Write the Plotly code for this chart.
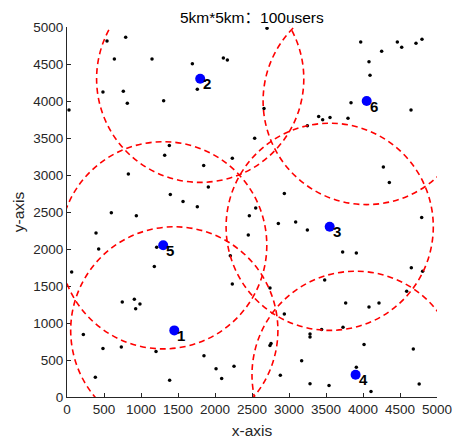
import plotly.graph_objects as go

# Base stations
bs_x = [1450, 1800, 3550, 3900, 1300, 4050]
bs_y = [900, 4300, 2300, 300, 2050, 4000]
bs_labels = ["1", "2", "3", "4", "5", "6"]
coverage_radius = 1400

# Users
user_x = [793, 541, 640, 1149, 1694, 2113, 2167, 1761, 486, 761, 815, 1306, 27, 1383,
          2703, 3969, 4464, 4523, 4716, 4797, 4252, 4081, 4095, 3838, 4649, 2662, 3401,
          3455, 3554, 3797, 3248, 2536,
          1320, 1847, 2234, 829, 1910, 1396, 1568, 1761, 599, 937, 2464, 392, 2450, 428,
          1212, 1180, 63, 2207,
          4275, 4356, 2937, 2550, 2856, 3090, 3248, 4793, 3725, 3910, 4653, 4806,
          2234, 747, 910, 986, 928, 221, 734, 486, 1203, 1851, 2014, 2257, 2090, 383, 1387,
          2743, 3482, 3766, 4081, 4216, 4590, 2937, 3730, 3441, 3284, 3284, 2757, 2743,
          4014, 4680, 3171, 3910, 2883, 3284, 3541, 4108, 4759]
user_y = [4861, 4811, 4568, 4568, 4505, 4582, 4555, 4159, 4123, 4132, 3970, 4005, 3880, 3398,
          4982, 4798, 4798, 4726, 4780, 4834, 4672, 4532, 4348, 3978, 3880, 3898, 3790,
          3745, 3776, 3768, 3664, 3498,
          3268, 3128, 3228, 3012, 2837, 2737, 2643, 2571, 2490, 2449, 2449, 2216, 2189, 2000,
          2022, 1765, 1690, 1910,
          3107, 2899, 2751, 2553, 2346, 2364, 2256, 2427, 1959, 1946, 1748, 1698,
          1528, 1285, 1320, 1258, 1194, 843, 677, 655, 614, 556, 381, 416, 250, 267, 227,
          1474, 1582, 1271, 1217, 1271, 1428, 1123, 942, 911, 853, 812, 722, 695,
          708, 650, 489, 402, 294, 178, 155, 76, 176]

tick_vals = list(range(0, 5001, 500))
tick_text = [str(v) for v in tick_vals]

title_text = "5km*5km：100users"

FONT = "Liberation Sans, Arial, Noto Sans CJK SC"

fig = go.Figure()

fig.add_trace(go.Scatter(
    x=user_x, y=user_y, mode="markers",
    marker=dict(color="black", size=3.5),
    showlegend=False, hoverinfo="skip", cliponaxis=True))

fig.add_trace(go.Scatter(
    x=bs_x, y=bs_y, mode="markers",
    marker=dict(color="#0000FF", size=10),
    showlegend=False, cliponaxis=False))

for cx, cy in zip(bs_x, bs_y):
    fig.add_shape(type="circle", xref="x", yref="y",
                  x0=cx - coverage_radius, x1=cx + coverage_radius,
                  y0=cy - coverage_radius, y1=cy + coverage_radius,
                  line=dict(color="#FF0000", width=1.6, dash="6px,4px"),
                  layer="above")

for cx, cy, lab in zip(bs_x, bs_y, bs_labels):
    fig.add_annotation(x=cx, y=cy, text="<b>" + lab + "</b>", showarrow=False,
                       xanchor="left", yanchor="middle", xshift=1, yshift=-5,
                       font=dict(family=FONT, size=15, color="black"))

axis_common = dict(
    range=[0, 5000], tickmode="array", tickvals=tick_vals, ticktext=tick_text,
    ticks="inside", ticklen=4, tickcolor="#262626", tickwidth=1,
    showline=True, linecolor="#262626", linewidth=1, mirror=False,
    showgrid=False, zeroline=False, automargin=False,
    tickfont=dict(family=FONT, size=13.5, color="#262626"),
)

fig.update_xaxes(**axis_common,
                 title=dict(text="x-axis", standoff=8,
                            font=dict(family=FONT, size=15.5, color="#262626")))
fig.update_yaxes(**axis_common,
                 title=dict(text="y-axis", standoff=4,
                            font=dict(family=FONT, size=15.5, color="#262626")))

fig.update_layout(
    width=453, height=441,
    margin=dict(l=67, r=16, t=27, b=43.5),
    plot_bgcolor="white", paper_bgcolor="white",
    title=dict(text=title_text, x=0.556, xanchor="center", y=0.96, yanchor="middle",
               font=dict(family=FONT, size=15.5, color="black")),
)

fig.write_html("out.html",
               config={"displayModeBar": False},
               post_script="document.body.style.margin='0';document.body.style.padding='0';"
                           "document.body.style.overflow='hidden';")
